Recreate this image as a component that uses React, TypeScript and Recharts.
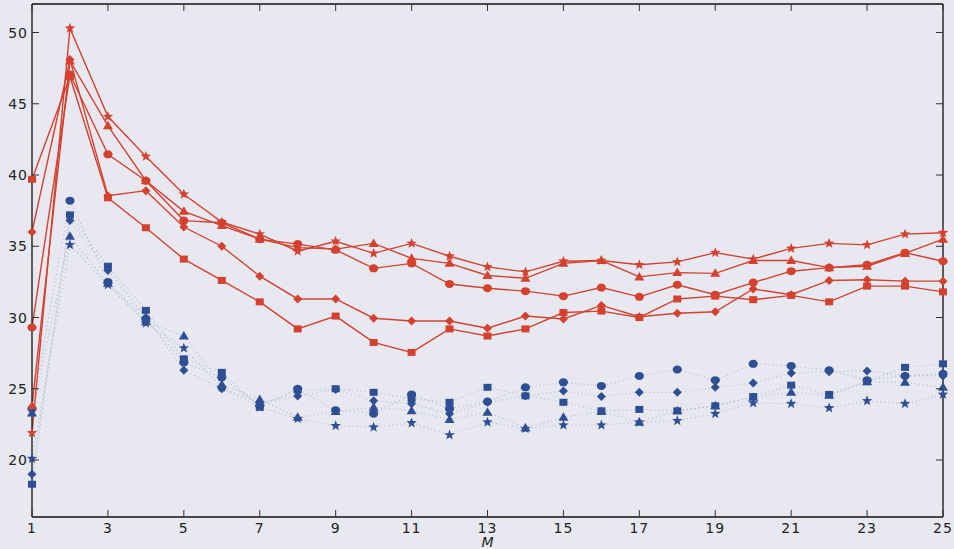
import React from 'react';
import { LineChart, Line, XAxis, YAxis } from 'recharts';

const M = [1,2,3,4,5,6,7,8,9,10,11,12,13,14,15,16,17,18,19,20,21,22,23,24,25];
const xTicks = [1,3,5,7,9,11,13,15,17,19,21,23,25];
const yTicks = [20,25,30,35,40,45,50];

const redSquare = [39.7,46.9,38.4,36.3,34.1,32.6,31.1,29.2,30.1,28.25,27.55,29.2,28.7,29.2,30.35,30.45,30.0,31.3,31.5,31.25,31.55,31.1,32.2,32.2,31.8];
const redCircle = [29.3,47.05,41.45,39.6,36.8,36.65,35.5,35.15,34.75,33.45,33.8,32.35,32.05,31.85,31.5,32.1,31.45,32.3,31.6,32.45,33.25,33.5,33.7,34.55,33.95];
const redDiamond = [36.0,48.1,38.55,38.9,36.35,35.0,32.9,31.3,31.3,29.95,29.75,29.75,29.25,30.1,29.9,30.85,30.05,30.3,30.4,32.0,31.6,32.6,32.65,32.55,32.55];
const redTriangle = [23.8,48.0,43.45,39.6,37.45,36.45,35.5,34.9,34.8,35.2,34.15,33.8,32.95,32.75,33.8,34.0,32.85,33.15,33.1,34.0,34.0,33.5,33.6,34.5,35.5];
const redStar = [21.9,50.3,44.1,41.3,38.65,36.7,35.85,34.65,35.35,34.5,35.2,34.3,33.55,33.2,33.95,34.0,33.7,33.9,34.55,34.1,34.85,35.2,35.1,35.85,35.95];

const blueCircle = [23.6,38.2,32.5,29.9,26.85,25.8,23.8,25.0,23.5,23.25,24.6,23.6,24.1,25.1,25.45,25.2,25.9,26.35,25.6,26.75,26.6,26.3,25.6,25.9,26.05];
const blueSquare = [18.3,37.2,33.6,30.5,27.1,26.15,23.7,24.9,25.0,24.75,24.3,24.05,25.1,24.5,24.05,23.45,23.55,23.45,23.8,24.45,25.25,24.6,25.5,26.5,26.75];
const blueDiamond = [19.0,36.8,33.3,30.0,26.3,25.0,24.05,24.5,24.95,24.15,23.95,23.25,24.05,24.5,24.85,24.45,24.75,24.75,25.1,25.4,26.1,26.2,26.25,25.9,25.9];
const blueTriangle = [23.3,35.7,32.4,29.7,28.7,25.3,24.25,23.0,23.4,23.7,23.45,22.85,23.35,22.25,23.0,23.4,22.65,23.45,23.8,24.4,24.75,24.55,25.5,25.45,25.1];
const blueStar = [20.1,35.1,32.3,29.6,27.85,25.1,23.7,22.9,22.4,22.3,22.6,21.75,22.65,22.2,22.45,22.45,22.65,22.75,23.25,24.0,23.95,23.65,24.15,23.95,24.6];

const data = M.map((m, i) => ({
  m,
  rSq: redSquare[i], rCi: redCircle[i], rDi: redDiamond[i], rTr: redTriangle[i], rSt: redStar[i],
  bSq: blueSquare[i], bCi: blueCircle[i], bDi: blueDiamond[i], bTr: blueTriangle[i], bSt: blueStar[i],
}));

const RED = '#d4412f';
const BLUE = '#2e4f93';
const BLUE_LINE = '#b3b9d3';
const BG = '#e8e9f0';
const FONT = 'DejaVu Sans, Liberation Sans, Arial, sans-serif';
const TICK_LEN = 7;
const TICK_COLOR = '#333';
const TEXT_COLOR = '#222';

function starPath(cx: number, cy: number, r: number) {
  const pts: string[] = [];
  for (let k = 0; k < 10; k++) {
    const rr = k % 2 === 0 ? r : r * 0.42;
    const a = -Math.PI / 2 + (k * Math.PI) / 5;
    pts.push(`${(cx + rr * Math.cos(a)).toFixed(2)},${(cy + rr * Math.sin(a)).toFixed(2)}`);
  }
  return 'M' + pts.join('L') + 'Z';
}

function makeDot(shape: string, color: string) {
  return (p: any) => {
    const { cx, cy, index } = p;
    const key = `${shape}-${color}-${index}`;
    if (cx == null || cy == null) return <g key={key} />;
    switch (shape) {
      case 'square':
        return <rect key={key} x={cx - 4} y={cy - 3.5} width={8} height={7} fill={color} />;
      case 'circle':
        return <ellipse key={key} cx={cx} cy={cy} rx={4.6} ry={4} fill={color} />;
      case 'diamond':
        return <path key={key} d={`M${cx},${cy - 4.5}L${cx + 4.5},${cy}L${cx},${cy + 4.5}L${cx - 4.5},${cy}Z`} fill={color} />;
      case 'triangle':
        return <path key={key} d={`M${cx},${cy - 5}L${cx + 5},${cy + 3.5}L${cx - 5},${cy + 3.5}Z`} fill={color} />;
      default:
        return <path key={key} d={starPath(cx, cy, 5.5)} fill={color} />;
    }
  };
}

const LeftTick = (p: any) => (
  <g>
    <line x1={p.x} y1={p.y} x2={p.x + TICK_LEN} y2={p.y} stroke={TICK_COLOR} strokeWidth={1} />
    <text x={p.x - 4} y={p.y} dy="0.36em" textAnchor="end" fill={TEXT_COLOR} fontSize={14} fontFamily={FONT} letterSpacing={1}>
      {p.payload.value}
    </text>
  </g>
);
const BottomTick = (p: any) => (
  <g>
    <line x1={p.x} y1={p.y} x2={p.x} y2={p.y - TICK_LEN} stroke={TICK_COLOR} strokeWidth={1} />
    <text x={p.x} y={p.y + 6} dy="0.71em" textAnchor="middle" fill={TEXT_COLOR} fontSize={14} fontFamily={FONT} letterSpacing={1}>
      {p.payload.value}
    </text>
  </g>
);
const TopTick = (p: any) => (
  <line x1={p.x} y1={p.y} x2={p.x} y2={p.y + TICK_LEN} stroke={TICK_COLOR} strokeWidth={1} />
);
const RightTick = (p: any) => (
  <line x1={p.x} y1={p.y} x2={p.x - TICK_LEN} y2={p.y} stroke={TICK_COLOR} strokeWidth={1} />
);

const redSeries = [
  { key: 'rSq', shape: 'square' },
  { key: 'rCi', shape: 'circle' },
  { key: 'rDi', shape: 'diamond' },
  { key: 'rTr', shape: 'triangle' },
  { key: 'rSt', shape: 'star' },
];
const blueSeries = [
  { key: 'bSq', shape: 'square' },
  { key: 'bCi', shape: 'circle' },
  { key: 'bDi', shape: 'diamond' },
  { key: 'bTr', shape: 'triangle' },
  { key: 'bSt', shape: 'star' },
];

const axisLineStyle = { stroke: '#111', strokeWidth: 1.3 };

export default function App() {
  return (
    <div style={{ position: 'absolute', left: 0, top: 0, width: 954, height: 549, background: BG }}>
      <LineChart width={954} height={549} data={data} margin={{ top: 3, right: 10, bottom: 0, left: 0 }}>
        <XAxis
          dataKey="m"
          type="number"
          domain={[1, 25]}
          ticks={xTicks}
          interval={0}
          height={32}
          axisLine={axisLineStyle}
          tickLine={false}
          tickSize={0}
          tickMargin={0}
          tick={<BottomTick />}
          label={{ value: 'M', position: 'insideBottom', offset: 2, fill: TEXT_COLOR, fontSize: 14, fontStyle: 'italic', fontFamily: FONT }}
        />
        <XAxis
          xAxisId="top"
          dataKey="m"
          orientation="top"
          type="number"
          domain={[1, 25]}
          ticks={xTicks}
          interval={0}
          height={1}
          axisLine={axisLineStyle}
          tickLine={false}
          tickSize={0}
          tickMargin={0}
          tick={<TopTick />}
        />
        <YAxis
          type="number"
          domain={[16, 52]}
          ticks={yTicks}
          interval={0}
          width={32}
          axisLine={axisLineStyle}
          tickLine={false}
          tickSize={0}
          tickMargin={0}
          tick={<LeftTick />}
        />
        <YAxis
          yAxisId="right"
          orientation="right"
          type="number"
          domain={[16, 52]}
          ticks={yTicks}
          interval={0}
          width={1}
          axisLine={axisLineStyle}
          tickLine={false}
          tickSize={0}
          tickMargin={0}
          tick={<RightTick />}
        />
        <Line
          xAxisId="top"
          yAxisId="right"
          dataKey="rSq"
          stroke="none"
          dot={false}
          activeDot={false}
          isAnimationActive={false}
        />
        {blueSeries.map((s) => (
          <Line
            key={s.key}
            dataKey={s.key}
            type="linear"
            stroke={BLUE_LINE}
            strokeWidth={1.2}
            strokeDasharray="1 3"
            dot={makeDot(s.shape, BLUE)}
            activeDot={false}
            isAnimationActive={false}
          />
        ))}
        {redSeries.map((s) => (
          <Line
            key={s.key}
            dataKey={s.key}
            type="linear"
            stroke={RED}
            strokeWidth={1.4}
            dot={makeDot(s.shape, RED)}
            activeDot={false}
            isAnimationActive={false}
          />
        ))}
      </LineChart>
    </div>
  );
}
